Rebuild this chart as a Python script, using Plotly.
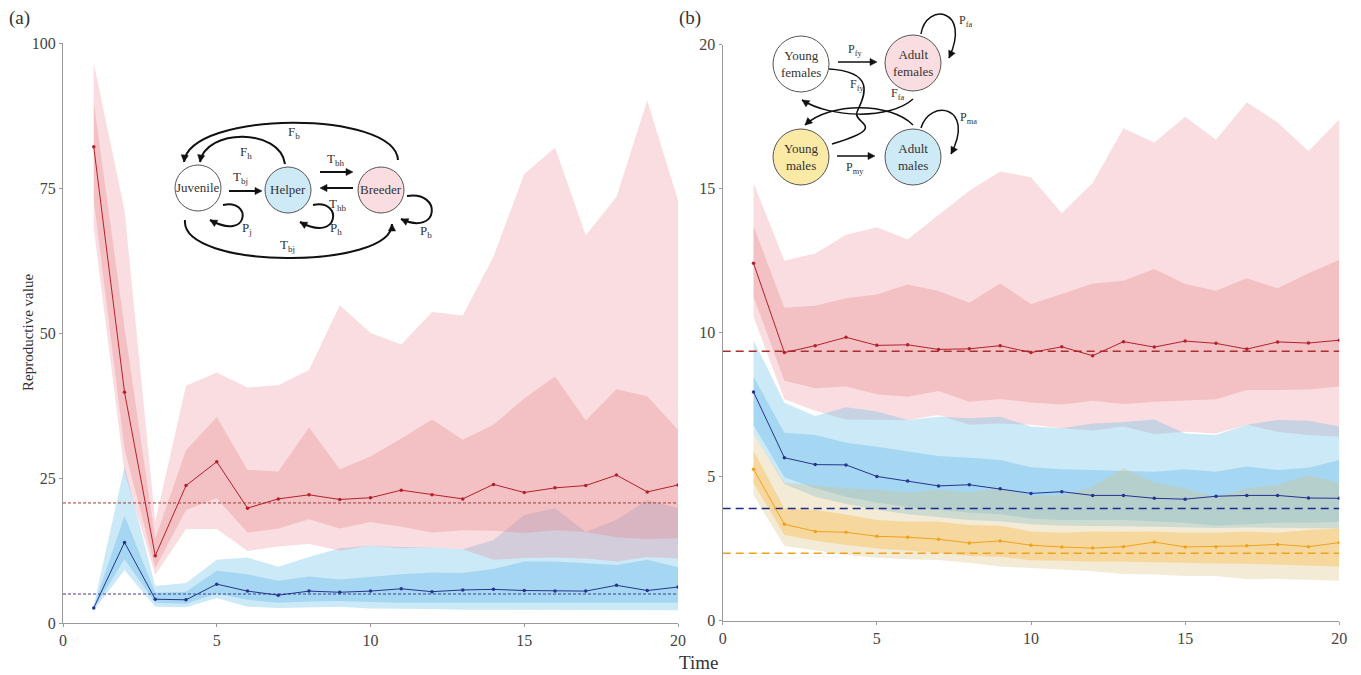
import plotly.graph_objects as go
import math

# ---------------- data ----------------
time = list(range(1, 21))

# panel (a): breeders (red) and helpers (blue)
red_mean_a = [82.1, 39.8, 11.6, 23.7, 27.8, 19.8, 21.4, 22.1, 21.3, 21.6, 22.9, 22.1, 21.4, 23.9, 22.5, 23.3, 23.7, 25.5, 22.6, 23.8]
red_outer_up_a = [96.5, 71.2, 17.5, 40.9, 43.2, 40.6, 41.0, 43.6, 54.8, 50.0, 48.0, 53.6, 53.0, 63.2, 77.4, 82.0, 66.8, 73.5, 90.1, 72.9]
red_outer_lo_a = [68.0, 26.0, 8.3, 16.2, 16.2, 12.4, 13.2, 13.6, 12.5, 13.3, 12.9, 13.0, 12.7, 10.9, 11.2, 11.3, 11.1, 10.6, 11.4, 11.1]
red_inner_up_a = [89.8, 51.0, 14.5, 29.8, 35.5, 26.4, 26.1, 33.7, 26.5, 28.7, 31.8, 35.1, 31.6, 34.2, 38.7, 42.5, 34.9, 40.3, 39.1, 33.3]
red_inner_lo_a = [73.0, 30.0, 9.5, 19.5, 21.5, 15.6, 16.3, 17.9, 16.3, 17.4, 16.6, 15.6, 16.0, 15.9, 15.5, 16.0, 15.7, 14.8, 14.5, 14.6]

blue_mean_a = [2.6, 13.9, 4.1, 4.0, 6.7, 5.5, 4.8, 5.5, 5.3, 5.5, 5.9, 5.4, 5.7, 5.8, 5.6, 5.5, 5.5, 6.5, 5.6, 6.2]
blue_outer_up_a = [3.0, 27.0, 6.4, 6.9, 10.9, 11.3, 9.7, 11.4, 12.9, 13.3, 13.1, 13.0, 12.7, 14.3, 18.6, 19.8, 15.7, 17.8, 21.2, 19.8]
blue_outer_lo_a = [2.2, 9.1, 2.8, 2.7, 4.3, 2.8, 2.6, 2.7, 2.8, 2.5, 2.4, 2.4, 2.3, 2.3, 2.3, 2.3, 2.3, 2.2, 2.2, 2.2]
blue_inner_up_a = [2.8, 18.5, 5.2, 5.4, 9.0, 8.4, 7.3, 8.0, 7.5, 8.0, 8.4, 8.7, 8.6, 9.3, 10.6, 10.6, 10.3, 10.0, 10.9, 9.6]
blue_inner_lo_a = [2.4, 11.0, 3.5, 3.3, 5.1, 4.0, 3.5, 3.7, 3.8, 3.6, 3.5, 3.5, 3.5, 3.5, 3.5, 3.5, 3.5, 3.4, 3.5, 3.5]

equilibrium_a = {"red": 20.7, "blue": 5.0}

# panel (b): adult females (red), adult males (blue), young males (orange)
red_mean_b = [12.41, 9.31, 9.55, 9.84, 9.56, 9.58, 9.42, 9.44, 9.55, 9.31, 9.51, 9.2, 9.69, 9.5, 9.71, 9.63, 9.43, 9.68, 9.64, 9.74]
red_outer_up_b = [15.2, 12.5, 12.75, 13.4, 13.66, 13.24, 14.09, 14.93, 15.6, 15.4, 14.15, 15.2, 17.1, 16.6, 17.5, 16.7, 18.0, 17.3, 16.3, 17.4]
red_outer_lo_b = [10.55, 7.69, 7.29, 6.99, 6.99, 6.97, 7.14, 6.8, 6.85, 6.8, 6.68, 6.6, 6.74, 6.48, 6.56, 6.5, 6.8, 6.56, 6.45, 6.39]
red_inner_up_b = [13.7, 10.87, 10.94, 11.2, 11.33, 11.67, 11.45, 11.04, 11.71, 11.0, 11.34, 11.71, 11.8, 12.21, 11.69, 11.46, 11.89, 11.54, 12.06, 12.52]
red_inner_lo_b = [11.25, 8.33, 8.07, 8.13, 7.86, 7.78, 7.98, 7.6, 7.7, 7.58, 7.51, 7.64, 7.52, 7.6, 7.64, 7.69, 8.01, 8.01, 8.03, 8.13]

blue_mean_b = [7.94, 5.66, 5.42, 5.41, 5.01, 4.85, 4.68, 4.72, 4.58, 4.42, 4.48, 4.35, 4.35, 4.25, 4.22, 4.32, 4.35, 4.35, 4.26, 4.25]
blue_outer_up_b = [9.74, 7.57, 7.11, 7.41, 7.26, 6.97, 7.08, 7.03, 7.08, 6.74, 6.68, 6.85, 6.9, 6.99, 6.5, 6.45, 6.8, 6.97, 6.94, 6.74]
blue_outer_lo_b = [6.5, 4.75, 4.3, 4.05, 3.85, 3.7, 3.6, 3.5, 3.45, 3.35, 3.3, 3.3, 3.28, 3.26, 3.25, 3.22, 3.24, 3.24, 3.22, 3.2]
blue_inner_up_b = [8.47, 6.53, 6.45, 6.18, 6.04, 5.87, 5.72, 5.66, 5.58, 5.33, 5.26, 5.23, 5.2, 5.17, 5.26, 5.17, 5.35, 5.23, 5.31, 5.58]
blue_inner_lo_b = [6.8, 4.98, 4.6, 4.3, 4.1, 3.95, 3.85, 3.75, 3.7, 3.55, 3.5, 3.5, 3.5, 3.45, 3.4, 3.3, 3.35, 3.4, 3.4, 3.44]

orange_mean_b = [5.26, 3.35, 3.1, 3.07, 2.93, 2.9, 2.83, 2.7, 2.77, 2.62, 2.56, 2.52, 2.57, 2.73, 2.56, 2.57, 2.6, 2.65, 2.57, 2.71]
orange_outer_up_b = [6.5, 4.8, 4.7, 4.6, 4.55, 4.45, 4.55, 4.45, 4.6, 4.33, 4.35, 4.65, 5.29, 4.79, 4.6, 4.28, 4.6, 4.71, 5.06, 4.79]
orange_outer_lo_b = [4.36, 2.59, 2.45, 2.28, 2.19, 2.13, 2.11, 2.01, 1.88, 1.82, 1.78, 1.72, 1.62, 1.6, 1.55, 1.55, 1.44, 1.45, 1.42, 1.39]
orange_inner_up_b = [5.9, 3.9, 3.84, 3.69, 3.5, 3.44, 3.44, 3.32, 3.3, 3.1, 3.05, 3.1, 3.09, 3.1, 3.05, 3.05, 3.1, 3.05, 3.15, 3.2]
orange_inner_lo_b = [4.77, 2.98, 2.78, 2.63, 2.51, 2.43, 2.36, 2.25, 2.22, 2.1, 2.08, 2.05, 2.05, 2.03, 2.0, 1.99, 1.98, 1.95, 1.92, 1.88]

equilibrium_b = {"red": 9.36, "blue": 3.9, "orange": 2.34}

x_ticks = [0, 5, 10, 15, 20]
y_ticks_a = [0, 25, 50, 75, 100]
y_ticks_b = [0, 5, 10, 15, 20]

# ---------------- styles ----------------
FONT = "Liberation Serif"
# page offset from default body margin of the html page
OX, OY = 8, 8
FW, FH = 1353, 667
C = {
    "red": dict(line="#b3202c", outer="rgba(235,120,130,0.25)", inner="rgba(230,129,131,0.30)"),
    "blue": dict(line="#26338f", outer="rgba(100,190,230,0.335)", inner="rgba(90,180,235,0.33)"),
    "orange": dict(line="#f0a21c", outer="rgba(215,190,120,0.30)", inner="rgba(250,190,80,0.42)"),
}
DASH_A = {"red": "#a33a3a", "blue": "#3c3c8c"}
DASH_B = {"red": "#a83030", "blue": "#1f2a8a", "orange": "#f0a21c"}


def X(px):
    return (px - OX) / FW


def Y(py):
    return 1 - (py - OY) / FH


fig = go.Figure()


def band(xa, ya, up, lo, color):
    fig.add_trace(go.Scatter(
        x=time + time[::-1], y=up + lo[::-1], xaxis=xa, yaxis=ya,
        fill="toself", fillcolor=color, line=dict(width=0), mode="lines",
        hoverinfo="skip", showlegend=False))


def mean_line(xa, ya, vals, color):
    fig.add_trace(go.Scatter(
        x=time, y=vals, xaxis=xa, yaxis=ya, mode="lines+markers",
        line=dict(color=color, width=1), marker=dict(size=3.5, color=color),
        showlegend=False))


def hline(xa, ya, val, color, dash, width):
    fig.add_trace(go.Scatter(
        x=[x_ticks[0], x_ticks[-1]], y=[val, val], xaxis=xa, yaxis=ya, mode="lines",
        line=dict(color=color, width=width, dash=dash), hoverinfo="skip", showlegend=False))


# panel (a)
band("x", "y", blue_outer_up_a, blue_outer_lo_a, C["blue"]["outer"])
band("x", "y", blue_inner_up_a, blue_inner_lo_a, C["blue"]["inner"])
band("x", "y", red_outer_up_a, red_outer_lo_a, C["red"]["outer"])
band("x", "y", red_inner_up_a, red_inner_lo_a, C["red"]["inner"])
hline("x", "y", equilibrium_a["red"], DASH_A["red"], "3px,2px", 1)
hline("x", "y", equilibrium_a["blue"], DASH_A["blue"], "3px,2px", 1)
mean_line("x", "y", red_mean_a, C["red"]["line"])
mean_line("x", "y", blue_mean_a, C["blue"]["line"])

# panel (b)
band("x2", "y2", red_outer_up_b, red_outer_lo_b, C["red"]["outer"])
band("x2", "y2", red_inner_up_b, red_inner_lo_b, C["red"]["inner"])
band("x2", "y2", blue_outer_up_b, blue_outer_lo_b, C["blue"]["outer"])
band("x2", "y2", blue_inner_up_b, blue_inner_lo_b, C["blue"]["inner"])
band("x2", "y2", orange_outer_up_b, orange_outer_lo_b, C["orange"]["outer"])
band("x2", "y2", orange_inner_up_b, orange_inner_lo_b, C["orange"]["inner"])
hline("x2", "y2", equilibrium_b["red"], DASH_B["red"], "8px,5px", 1.5)
hline("x2", "y2", equilibrium_b["blue"], DASH_B["blue"], "8px,5px", 1.5)
hline("x2", "y2", equilibrium_b["orange"], DASH_B["orange"], "8px,5px", 1.5)
mean_line("x2", "y2", red_mean_b, C["red"]["line"])
mean_line("x2", "y2", blue_mean_b, C["blue"]["line"])
mean_line("x2", "y2", orange_mean_b, C["orange"]["line"])

# ---------------- layout ----------------
axis_common = dict(showline=True, linecolor="#9a9a9a", linewidth=1.3, ticks="outside",
                   ticklen=3, tickwidth=1, tickcolor="#9a9a9a", showgrid=False, zeroline=False,
                   automargin=False,
                   tickfont=dict(family=FONT, size=16, color="#444"), fixedrange=True)

fig.update_layout(
    width=FW, height=FH, margin=dict(l=0, r=0, t=0, b=0, pad=0, autoexpand=False),
    font=dict(family=FONT, color="#333"),
    paper_bgcolor="white", plot_bgcolor="white", showlegend=False,
    xaxis=dict(domain=[X(63), X(678)], range=[0, 20], tickvals=x_ticks, anchor="y", **axis_common),
    yaxis=dict(domain=[Y(623), Y(43)], range=[0, 100], tickvals=y_ticks_a, anchor="x", **axis_common),
    xaxis2=dict(domain=[X(722.7), X(1339.3)], range=[0, 20], tickvals=x_ticks, anchor="y2", **axis_common),
    yaxis2=dict(domain=[Y(620.7), Y(44.7)], range=[0, 20], tickvals=y_ticks_b, anchor="x2", **axis_common),
)

# ---------------- diagrams ----------------
shapes = []
annots = []


def circle(cx, cy, r, fill):
    shapes.append(dict(type="circle", xref="paper", yref="paper",
                       x0=X(cx - r), x1=X(cx + r), y0=Y(cy + r), y1=Y(cy - r),
                       line=dict(color="#555", width=1), fillcolor=fill, layer="above"))


def arrowhead(tip, frm, L=7, w=3.6):
    dx, dy = tip[0] - frm[0], tip[1] - frm[1]
    n = math.hypot(dx, dy)
    dx, dy = dx / n, dy / n
    bx, by = tip[0] - dx * L, tip[1] - dy * L
    nx, ny = -dy, dx
    p = "M {},{} L {},{} L {},{} Z".format(
        X(tip[0]), Y(tip[1]), X(bx + nx * w), Y(by + ny * w), X(bx - nx * w), Y(by - ny * w))
    shapes.append(dict(type="path", xref="paper", yref="paper", path=p,
                       fillcolor="#111", line=dict(color="#111", width=0.5), layer="above"))
    return (bx, by)


def straight(p0, p1, width=2):
    base = arrowhead(p1, p0)
    p = "M {},{} L {},{}".format(X(p0[0]), Y(p0[1]), X(base[0]), Y(base[1]))
    shapes.append(dict(type="path", xref="paper", yref="paper", path=p,
                       line=dict(color="#111", width=width), layer="above"))


def curve(pts, arrow=True, width=2):
    if arrow:
        arrowhead(pts[-1], pts[-2])
    s = "M {},{}".format(X(pts[0][0]), Y(pts[0][1]))
    for i in range(1, len(pts), 3):
        c1, c2, e = pts[i], pts[i + 1], pts[i + 2]
        s += " C {},{} {},{} {},{}".format(X(c1[0]), Y(c1[1]), X(c2[0]), Y(c2[1]), X(e[0]), Y(e[1]))
    shapes.append(dict(type="path", xref="paper", yref="paper", path=s,
                       line=dict(color="#111", width=width), layer="above"))


def label(x, y, text, size=13, **kw):
    annots.append(dict(x=X(x), y=Y(y), xref="paper", yref="paper", text=text, showarrow=False,
                       xanchor="center", yanchor="middle",
                       font=dict(family=FONT, size=size, color="#333"), **kw))


# ---- diagram (a) ----
circle(198, 188, 23, "white")
circle(288, 190, 23, "#cdeaf6")
circle(381, 190, 23, "#f9dde0")
label(198, 188, "Juvenile", 13)
label(288, 190, "Helper", 13)
label(381, 190, "Breeder", 13)
straight((229, 191), (262, 191))
straight((320, 172), (353, 172))
straight((353, 188), (320, 188))
curve([(285, 164), (280, 128), (206, 128), (200, 162)])
curve([(398, 160), (395, 110), (190, 110), (184, 162)])
curve([(185, 220), (180, 270), (392, 270), (392, 224)])
curve([(223, 205), (252, 198), (250, 242), (210, 220)])
curve([(313, 205), (343, 198), (340, 244), (300, 222)])
curve([(407, 196), (442, 190), (440, 237), (401, 219)])
label(240, 177, "T<sub>bj</sub>")
label(336, 159, "T<sub>bh</sub>")
label(338, 204, "T<sub>hb</sub>")
label(246, 152, "F<sub>h</sub>")
label(294, 133, "F<sub>b</sub>")
label(287, 245, "T<sub>bj</sub>")
label(247, 229, "P<sub>j</sub>")
label(336, 229, "P<sub>h</sub>")
label(426, 231, "P<sub>b</sub>")

# ---- diagram (b) ----
circle(801, 64, 28, "white")
circle(913, 63, 28, "#f9dde0")
circle(801, 157, 28, "#faeaa6")
circle(913, 157, 28, "#cdeaf6")
label(801, 64, "Young<br>females", 13)
label(913, 63, "Adult<br>females", 13)
label(801, 157, "Young<br>males", 13)
label(913, 157, "Adult<br>males", 13)
straight((838, 62), (877, 62), width=1.5)
straight((837, 156), (875, 156), width=1.5)
curve([(921, 34), (926, 2), (972, 8), (949, 58)], width=1.5)
curve([(921, 128), (930, 98), (976, 106), (951, 154)], width=1.5)
curve([(913, 99), (890, 120), (830, 118), (802, 100)], width=1.5)
curve([(913, 125), (890, 102), (830, 102), (805, 125)], width=1.5)
curve([(829, 69), (880, 72), (862, 100), (857, 112), (852, 124), (892, 126), (832, 144)], arrow=False, width=1.5)
label(855, 50, "P<sub>fy</sub>", 12)
label(855, 168, "P<sub>my</sub>", 12)
label(965, 21, "P<sub>fa</sub>", 12)
label(968, 118, "P<sub>ma</sub>", 12)
label(857, 85, "F<sub>fy</sub>", 12)
label(897, 94, "F<sub>fa</sub>", 12)

# ---- titles ----
label(28, 333, "Reproductive value", 15, textangle=-90)
label(698, 662, "Time", 19)
label(19, 18, "(a)", 19)
label(690, 18, "(b)", 19)

fig.update_layout(shapes=shapes, annotations=annots)
fig.write_html("out.html")
